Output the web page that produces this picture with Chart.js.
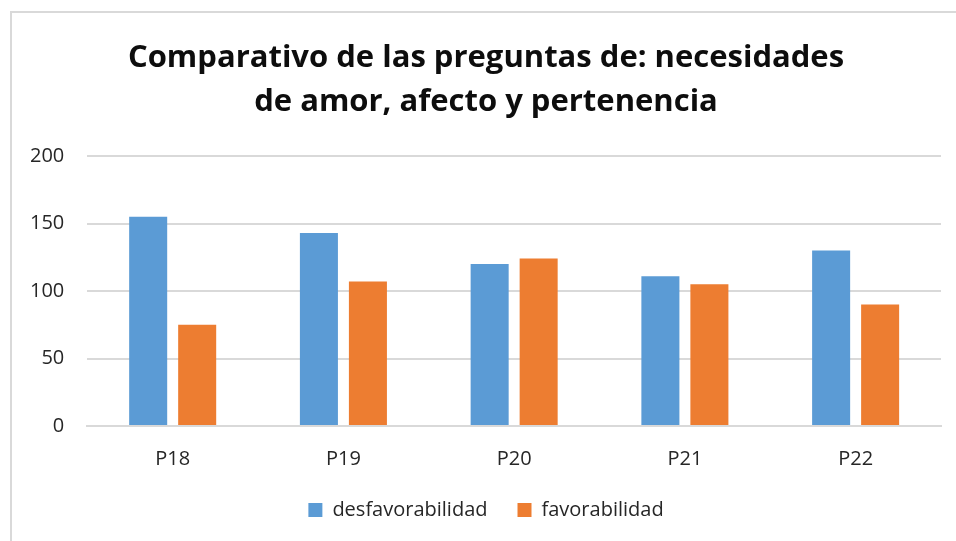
<!DOCTYPE html>
<html>
<head>
<meta charset="utf-8">
<script src="https://cdn.jsdelivr.net/npm/chart.js@4"></script>
<style>
    html, body { margin: 0; padding: 0; background: #fff; }
    #wrap { position: relative; width: 956px; height: 541px; overflow: hidden; }
    #frame {
        position: absolute; left: 10px; top: 11px; width: 960px; height: 560px;
        border: 2px solid #d9d9d9; box-sizing: border-box;
    }
    canvas { position: absolute; left: 0; top: 0; }
</style>
</head>
<body>
<div id="wrap">
    <div id="frame"></div>
    <canvas id="chart-needs" width="956" height="541"></canvas>
</div>
<script>
(function () {
    "use strict";

    var categories = ["P18", "P19", "P20", "P21", "P22"];
    var desfavorabilidad = [155, 143, 120, 111, 130];
    var favorabilidad = [75, 107, 124, 105, 90];
    var yTicks = [0, 50, 100, 150, 200];

    var BLUE = "#5b9bd5";
    var ORANGE = "#ed7d31";
    var GRID = "#d9d9d9";
    var TEXT = "#262626";
    var FONT = "'Open Sans', 'Liberation Sans', sans-serif";

    var canvas = document.getElementById("chart-needs");

    new Chart(canvas, {
        type: "bar",
        data: {
            labels: categories,
            datasets: [
                {
                    label: "desfavorabilidad",
                    data: desfavorabilidad,
                    backgroundColor: BLUE,
                    categoryPercentage: 0.574,
                    barPercentage: 0.776,
                },
                {
                    label: "favorabilidad",
                    data: favorabilidad,
                    backgroundColor: ORANGE,
                    categoryPercentage: 0.574,
                    barPercentage: 0.776,
                },
            ],
        },
        options: {
            responsive: false,
            animation: false,
            layout: {
                padding: { left: 31, right: 15, top: 20, bottom: 11 },
            },
            plugins: {
                title: {
                    display: true,
                    text: [
                        "Comparativo de las preguntas de: necesidades",
                        "de amor, afecto y pertenencia",
                    ],
                    color: "#0d0d0d",
                    font: { family: FONT, size: 31, weight: "bold", lineHeight: 1.42 },
                    padding: { top: 16, bottom: 32 },
                },
                legend: {
                    position: "bottom",
                    labels: {
                        color: TEXT,
                        font: { family: FONT, size: 20 },
                        boxWidth: 14,
                        boxHeight: 14,
                        padding: 30,
                    },
                },
                tooltip: { enabled: false },
            },
            scales: {
                x: {
                    grid: { display: false },
                    border: { color: GRID, width: 2 },
                    ticks: {
                        color: TEXT,
                        font: { family: FONT, size: 20 },
                        padding: 13,
                    },
                    afterFit: function (axis) {
                        axis.height -= 14;
                    },
                },
                y: {
                    min: 0,
                    max: 200,
                    afterBuildTicks: function (axis) {
                        axis.ticks = yTicks.map(function (v) { return { value: v }; });
                    },
                    grid: { color: GRID, lineWidth: 2, drawTicks: false },
                    border: { display: false },
                    ticks: {
                        color: TEXT,
                        font: { family: FONT, size: 20 },
                        padding: 23,
                    },
                    afterFit: function (axis) {
                        axis.width -= 24;
                    },
                },
            },
        },
    });
})();
</script>
</body>
</html>
